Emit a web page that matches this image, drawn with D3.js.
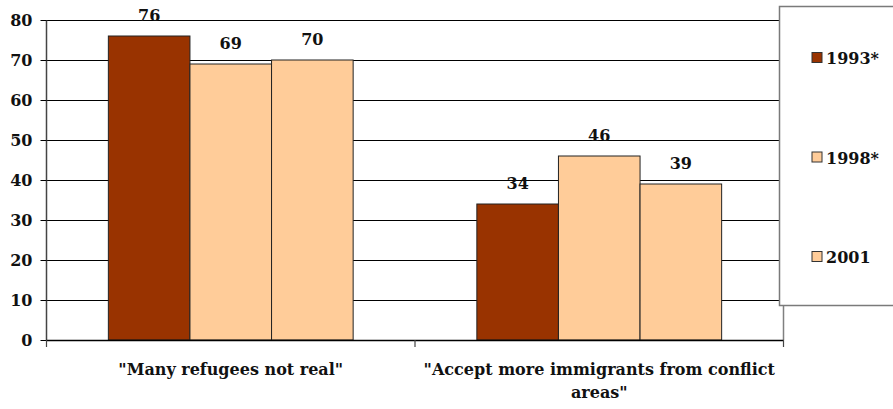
<!DOCTYPE html>
<html><head><meta charset="utf-8">
<script src="https://cdn.jsdelivr.net/npm/d3@7"></script>
<style>body{margin:0;background:#fff}svg{display:block}text{font-weight:bold;fill:#111}</style>
</head><body>
<svg id="c" width="893" height="409"></svg>
<script>
const categories = ['"Many refugees not real"', '"Accept more immigrants from conflict areas"'];
const seriesNames = ["1993*", "1998*", "2001"];
const values1993 = [76, 34];
const values1998 = [69, 46];
const values2001 = [70, 39];
const seriesColors = ["#993300", "#FFCC99", "#FFCC99"];
const yTicks = [0, 10, 20, 30, 40, 50, 60, 70, 80];

const FONT = "DejaVu Serif";
const FS = 16;
const series = [values1993, values1998, values2001];
const svg = d3.select("#c");
const L = 46.5, R = 783.5, T = 20, B = 340;
const x = d3.scaleBand().domain(categories).range([L, R]).paddingInner(0).paddingOuter(0);
const xs = d3.scaleBand().domain(seriesNames).range([0, x.bandwidth()]).paddingInner(0).paddingOuter(0.758);
const y = d3.scaleLinear().domain([0, 80]).range([B, T]);

// gridlines
svg.append("g").selectAll("line").data(yTicks.filter(d => d > 0)).join("line")
  .attr("x1", L).attr("x2", R).attr("y1", d => Math.round(y(d)) + 0.5).attr("y2", d => Math.round(y(d)) + 0.5)
  .attr("stroke", "#000").attr("stroke-width", 1);

// right border of plot
svg.append("line").attr("x1", R).attr("x2", R).attr("y1", T).attr("y2", B).attr("stroke", "#808080").attr("stroke-width", 1.5);

// bars
const g = svg.append("g");
categories.forEach((c, ci) => {
  seriesNames.forEach((s, si) => {
    const v = series[si][ci];
    g.append("rect")
      .attr("x", x(c) + xs(s)).attr("y", y(v))
      .attr("width", xs.bandwidth()).attr("height", y(0) - y(v))
      .attr("fill", seriesColors[si]).attr("stroke", "#222").attr("stroke-width", 1);
    g.append("text").attr("x", x(c) + xs(s) + xs.bandwidth() / 2).attr("y", y(v) - 15)
      .attr("text-anchor", "middle").style("font-size", FS + "px").style("font-family", FONT).text(v);
  });
});

// y axis
const yAxis = d3.axisLeft(y).tickValues(yTicks).tickSize(6).tickPadding(8).tickFormat(d3.format("d"));
const ya = svg.append("g").attr("transform", `translate(${L},0)`).call(yAxis);
ya.select(".domain").attr("stroke", "#444").attr("stroke-width", 1.5).attr("d", `M0,${T}V${B}`);
ya.selectAll(".tick line").attr("stroke", "#000");
ya.selectAll(".tick text").style("font-size", FS + "px").style("font-family", FONT).attr("font-weight", "bold").attr("fill", "#111").attr("dy", "0.35em");

// x axis
const xa = svg.append("g").attr("transform", `translate(0,${B})`);
xa.append("line").attr("x1", L).attr("x2", R).attr("y1", 0.5).attr("y2", 0.5).attr("stroke", "#000").attr("stroke-width", 1.5);
[L, x(categories[1]), R].forEach(px => xa.append("line").attr("x1", px).attr("x2", px).attr("y1", 0).attr("y2", 7).attr("stroke", "#444").attr("stroke-width", 1.2));

// category labels
const catLines = [[categories[0]], ['"Accept more immigrants from conflict', 'areas"']];
categories.forEach((c, ci) => {
  const t = svg.append("text").attr("text-anchor", "middle").style("font-size", FS + "px").style("font-family", FONT);
  catLines[ci].forEach((ln, li) => t.append("tspan").attr("x", x(c) + x.bandwidth() / 2).attr("y", 375 + li * 23).text(ln));
});

// legend
svg.append("rect").attr("x", 779.5).attr("y", 6.5).attr("width", 130).attr("height", 299)
  .attr("fill", "#fff").attr("stroke", "#7a7a7a").attr("stroke-width", 1.5);
const ly = d3.scalePoint().domain(seriesNames).range([58, 257]);
seriesNames.forEach((s, si) => {
  svg.append("rect").attr("x", 812).attr("y", ly(s) - 5.5).attr("width", 10).attr("height", 10)
    .attr("fill", seriesColors[si]).attr("stroke", "#333").attr("stroke-width", 1);
  svg.append("text").attr("x", 826).attr("y", ly(s) + 6).style("font-size", FS + "px").style("font-family", FONT).text(s);
});
</script>
</body></html>
